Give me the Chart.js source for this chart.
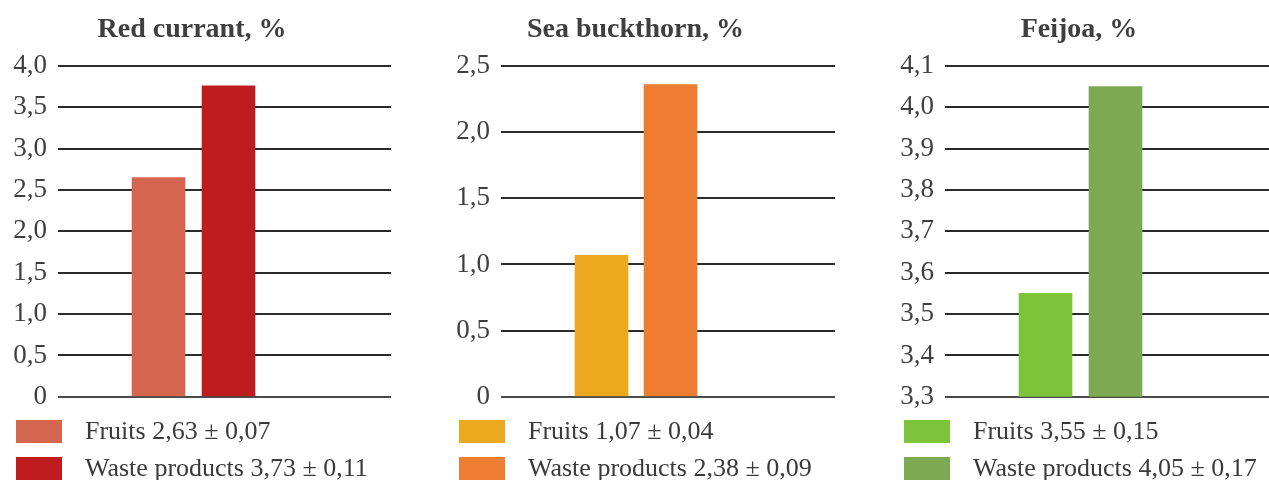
<!DOCTYPE html>
<html lang="en">
<head>
    <meta charset="UTF-8">
    <title>Fruits and waste products, %</title>
    <script src="https://cdn.jsdelivr.net/npm/chart.js"></script>
    <style>
        body { margin: 0; background: #fff; }
        #wrap { position: relative; width: 1269px; height: 480px; overflow: hidden; }
        .panel { position: absolute; top: 0; }
        .legend { position: absolute; font: 26px "Liberation Serif", "Times New Roman", serif; color: #3a3a3a; white-space: nowrap; }
        .legend .row { position: absolute; left: 0; height: 23px; }
        .legend .box { position: absolute; left: 0; top: 0; width: 46px; height: 23px; }
        .legend .txt { position: absolute; left: 69px; top: -2px; line-height: 26px; }
    </style>
</head>
<body>
<div id="wrap">
    <canvas id="c1" class="panel" width="398" height="424" style="left:-7px"></canvas>
    <canvas id="c2" class="panel" width="399" height="424" style="left:436px"></canvas>
    <canvas id="c3" class="panel" width="380" height="424" style="left:889px"></canvas>
    <div id="l1" class="legend" style="left:16px; top:420px"></div>
    <div id="l2" class="legend" style="left:459px; top:420px"></div>
    <div id="l3" class="legend" style="left:904px; top:420px"></div>
</div>
<script>
    // values
    const redCurrant = [2.65, 3.76];
    const seaBuckthorn = [1.07, 2.36];
    const feijoa = [3.55, 4.05];

    const redLegend = ['Fruits 2,63 ± 0,07', 'Waste products 3,73 ± 0,11'];
    const seaLegend = ['Fruits 1,07 ± 0,04', 'Waste products 2,38 ± 0,09'];
    const feijoaLegend = ['Fruits 3,55 ± 0,15', 'Waste products 4,05 ± 0,17'];

    const redTicks = ['0', '0,5', '1,0', '1,5', '2,0', '2,5', '3,0', '3,5', '4,0'];
    const seaTicks = ['0', '0,5', '1,0', '1,5', '2,0', '2,5'];
    const feijoaTicks = ['3,3', '3,4', '3,5', '3,6', '3,7', '3,8', '3,9', '4,0', '4,1'];

    const redColors = ['#d4664f', '#be1c1e'];
    const seaColors = ['#eca91f', '#ed7d31'];
    const feijoaColors = ['#7dc43a', '#7ea953'];

    const serif = '"Liberation Serif", "Times New Roman", serif';

    function makePanel(id, title, values, ticks, colors, yMin, yMax, step, axisWidth, xMin, xMax) {
        new Chart(document.getElementById(id), {
            type: 'bar',
            data: {
                datasets: [{
                    data: values.map((v, i) => ({ x: i + 1, y: v })),
                    backgroundColor: colors,
                    barThickness: 53
                }]
            },
            options: {
                responsive: false,
                animation: false,
                layout: { padding: 0 },
                plugins: {
                    legend: { display: false },
                    tooltip: { enabled: false },
                    title: {
                        display: true,
                        text: title,
                        color: '#3f3f3f',
                        font: { family: serif, size: 28, weight: 'bold', lineHeight: 1.2 },
                        padding: { top: 13, bottom: 19.4 }
                    }
                },
                scales: {
                    x: { type: 'linear', display: false, offset: false, min: xMin, max: xMax },
                    y: {
                        min: yMin,
                        max: yMax,
                        afterFit: s => { s.width = axisWidth; },
                        afterBuildTicks: s => {
                            s.ticks = ticks.map((t, i) => ({ value: yMin + i * step }));
                        },
                        border: { display: false },
                        grid: {
                            drawTicks: false,
                            lineWidth: 2,
                            color: ctx => ctx.index === 0 ? '#4a4a4a' : '#2a2a2a'
                        },
                        ticks: {
                            padding: 11,
                            color: '#3f3f3f',
                            font: { family: serif, size: 27 },
                            callback: (v, i) => ticks[i]
                        }
                    }
                }
            }
        });
    }

    function makeLegend(id, labels, colors) {
        const el = document.getElementById(id);
        labels.forEach((lab, i) => {
            const row = document.createElement('div');
            row.className = 'row';
            row.style.top = (i * 37) + 'px';
            row.innerHTML = '<div class="box" style="background:' + colors[i] + '"></div><div class="txt">' + lab + '</div>';
            el.appendChild(row);
        });
    }

    makePanel('c1', 'Red currant, %', redCurrant, redTicks, redColors, 0, 4, 0.5, 65, -0.436, 4.321);
    makePanel('c2', 'Sea buckthorn, %', seaBuckthorn, seaTicks, seaColors, 0, 2.5, 0.5, 65, -0.457, 4.384);
    makePanel('c3', 'Feijoa, %', feijoa, feijoaTicks, feijoaColors, 3.3, 4.1, 0.1, 56, -0.436, 4.193);

    makeLegend('l1', redLegend, redColors);
    makeLegend('l2', seaLegend, seaColors);
    makeLegend('l3', feijoaLegend, feijoaColors);
</script>
</body>
</html>
